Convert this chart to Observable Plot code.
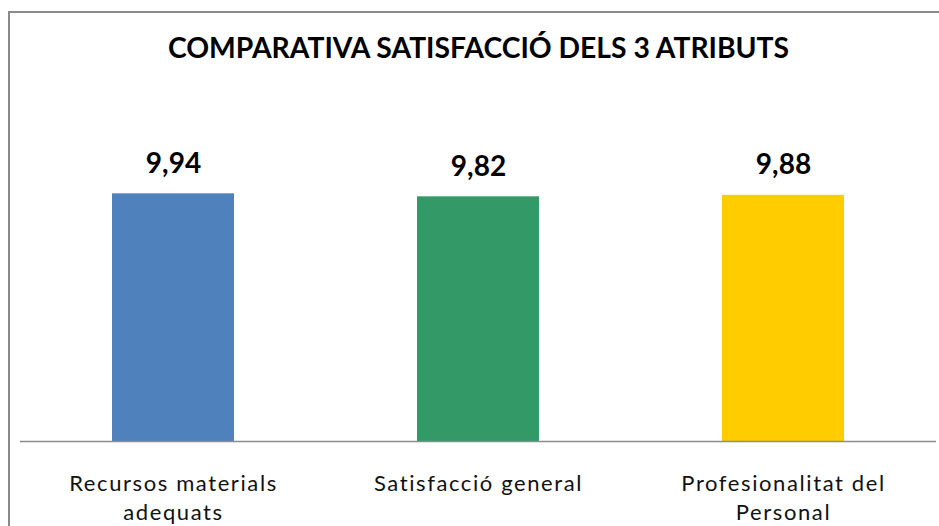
<!DOCTYPE html>
<html>
<head>
<meta charset="utf-8">
<script src="https://cdn.jsdelivr.net/npm/d3@7"></script>
<script src="https://cdn.jsdelivr.net/npm/@observablehq/plot@0.6"></script>
<style>
  html, body { margin: 0; padding: 0; background: #fff; }
  #wrap { position: relative; width: 939px; height: 526px; overflow: hidden; }
  #border { position: absolute; left: 8px; top: 11px; width: 960px; height: 560px;
            border-left: 2px solid #8a8a8a; border-top: 2px solid #8a8a8a; box-sizing: border-box; }
  #chart { position: absolute; left: 0; top: 0; }
  #chart g[aria-label="x-axis tick label"] text { letter-spacing: 1.6px; }
</style>
</head>
<body>
<div id="wrap"><div id="border"></div><div id="chart"></div></div>
<script>
const title = "COMPARATIVA SATISFACCIÓ DELS 3 ATRIBUTS";
const categories = ["Recursos materials adequats", "Satisfacció general", "Profesionalitat del Personal"];
const tickLabels = ["Recursos materials\nadequats", "Satisfacció general", "Profesionalitat del\nPersonal"];
const values = [9.94, 9.82, 9.88];
const valueLabels = ["9,94", "9,82", "9,88"];
const colors = ["#4F81BD", "#339966", "#FFCC00"];

const data = categories.map((c, i) => ({category: c, value: values[i], label: valueLabels[i], color: colors[i]}));

const marginTop = 142;
const chart = Plot.plot({
  width: 939,
  height: 526,
  marginTop,
  marginBottom: 85,
  marginLeft: 20,
  marginRight: 3,
  style: {fontFamily: "Lato, 'Open Sans', sans-serif", color: "#000", background: "transparent"},
  x: {domain: categories, paddingInner: 0.6, paddingOuter: 0.3},
  y: {domain: [0, 12], axis: null},
  marks: [
    Plot.barY(data, {x: "category", y: "value", fill: "color"}),
    Plot.ruleY([0], {stroke: "#8c8c8c", strokeWidth: 1.5}),
    Plot.text(data, {x: "category", y: "value", text: "label", dy: -21, lineAnchor: "bottom",
      fontSize: 28, fontWeight: "bold", fill: "#000"}),
    Plot.axisX({tickSize: 0, tickPadding: 29, fontSize: 22, lineHeight: 1.32,
      tickFormat: (d, i) => tickLabels[categories.indexOf(d)], label: null, fill: "#111"}),
    Plot.text([title], {frameAnchor: "top", dy: -(marginTop - 57), lineAnchor: "bottom",
      fontSize: 28.3, fontWeight: "bold", fill: "#000"})
  ]
});
document.getElementById("chart").appendChild(chart);
</script>
</body>
</html>
